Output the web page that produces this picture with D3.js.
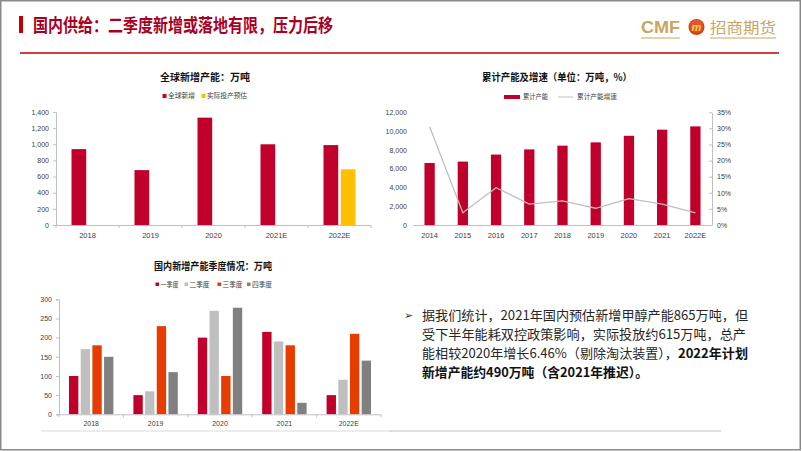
<!DOCTYPE html>
<html><head><meta charset="utf-8">
<script src="https://cdn.jsdelivr.net/npm/d3@7"></script>
<style>
html,body{margin:0;padding:0;background:#fff;}
svg{display:block;}
</style></head>
<body>
<svg id="c" width="802" height="451"></svg>
<script>
// ---------- DATA ----------
const pageTitle = "国内供给：二季度新增或落地有限，压力后移";

const c1Title = "全球新增产能：万吨";
const c1Categories = ["2018","2019","2020","2021E","2022E"];
const c1Global = [940, 680, 1330, 1000, 990];
const c1Actual = [null, null, null, null, 690];
const c1SeriesNames = ["全球新增","实际投产预估"];
const c1Ticks = [0,200,400,600,800,1000,1200,1400];

const c2Title = "累计产能及增速（单位：万吨，%）";
const c2Categories = ["2014","2015","2016","2017","2018","2019","2020","2021","2022E"];
const c2Capacity = [6600, 6750, 7500, 8050, 8450, 8800, 9500, 10150, 10500];
const c2Growth = [0.305, 0.038, 0.116, 0.065, 0.075, 0.052, 0.082, 0.065, 0.038];
const c2SeriesNames = ["累计产能","累计产能增速"];
const c2LeftTicks = [0,2000,4000,6000,8000,10000,12000];
const c2RightTicks = [0,0.05,0.10,0.15,0.20,0.25,0.30,0.35];

const c3Title = "国内新增产能季度情况：万吨";
const c3Categories = ["2018","2019","2020","2021","2022E"];
const c3Quarters = ["一季度","二季度","三季度","四季度"];
const c3Q1 = [100, 50, 200, 215, 50];
const c3Q2 = [170, 60, 270, 190, 90];
const c3Q3 = [180, 230, 100, 180, 210];
const c3Q4 = [150, 110, 278, 30, 140];
const c3Ticks = [0,50,100,150,200,250,300];

const bodyLines = [
  {parts:[{t:"据我们统计，2021年国内预估新增甲醇产能865万吨，但",b:false}], w:326},
  {parts:[{t:"受下半年能耗双控政策影响，实际投放约615万吨，总产",b:false}], w:324},
  {parts:[{t:"能相较2020年增长6.46%（剔除淘汰装置），",b:false},{t:"2022年计划",b:true}], w:326},
  {parts:[{t:"新增产能约490万吨（含2021年推迟）。",b:true}], w:226}
];

// ---------- STYLE ----------
const RED = "#C0002B";
const ORANGE = "#FFC000";
const GRAY_L = "#BFBFBF";
const ORANGE_R = "#E63C00";
const GRAY_D = "#808080";
const AXIS = "#BFBFBF";
const LBL = "#404040";
const CJK = "'Noto Sans CJK SC','Noto Sans',sans-serif";
const LAT = "'Liberation Sans',Arial,sans-serif";

const svg = d3.select("#c");

// frame
svg.append("rect").attr("x",0.75).attr("y",0.75).attr("width",799.5).attr("height",449)
  .attr("fill","none").attr("stroke","#8a8a8a").attr("stroke-width",1.5);

// header
svg.append("rect").attr("x",19).attr("y",16).attr("width",4).attr("height",17).attr("fill","#C00000");
svg.append("text").attr("x",33).attr("y",32).text(pageTitle)
  .attr("font-family",CJK).attr("font-weight","bold").attr("font-size",18)
  .attr("fill","#A8001E").attr("textLength",300).attr("lengthAdjust","spacingAndGlyphs");
svg.append("line").attr("x1",20).attr("x2",779).attr("y1",53).attr("y2",53)
  .attr("stroke","#C00000").attr("stroke-width",1.5);

// logo
const GOLD = "#C9A55E";
svg.append("text").attr("x",641).attr("y",33).text("CMF")
  .attr("font-family",LAT).attr("font-weight","bold").attr("font-size",17).attr("fill",GOLD)
  .attr("textLength",39).attr("lengthAdjust","spacingAndGlyphs");
svg.append("line").attr("x1",641).attr("x2",680).attr("y1",38).attr("y2",38).attr("stroke",GOLD).attr("stroke-width",1);
const ball = svg.append("g").attr("transform","translate(696.5,27)");
ball.append("circle").attr("r",8).attr("fill","#D2401A");
ball.append("circle").attr("r",6.5).attr("cy",-1).attr("fill","#E4572A");
ball.append("text").attr("y",3.5).attr("text-anchor","middle").text("m")
  .attr("font-family",LAT).attr("font-weight","bold").attr("font-style","italic").attr("font-size",11).attr("fill","#FFD24A");
svg.append("text").attr("x",710).attr("y",33).text("招商期货")
  .attr("font-family",CJK).attr("font-size",15).attr("fill",GOLD)
  .attr("textLength",66).attr("lengthAdjust","spacingAndGlyphs");
svg.append("line").attr("x1",710).attr("x2",776).attr("y1",38).attr("y2",38).attr("stroke",GOLD).attr("stroke-width",1);

function chartTitle(txt, cx, y, len){
  svg.append("text").attr("x",cx).attr("y",y).attr("text-anchor","middle").text(txt)
    .attr("font-family",CJK).attr("font-weight","bold").attr("font-size",10).attr("fill","#111")
    .attr("textLength",len).attr("lengthAdjust","spacingAndGlyphs");
}
function legendText(txt, x, y, len){
  svg.append("text").attr("x",x).attr("y",y).text(txt)
    .attr("font-family",CJK).attr("font-size",6.5).attr("fill","#404040")
    .attr("textLength",len).attr("lengthAdjust","spacingAndGlyphs");
}
function styleAxis(g){
  g.selectAll("path").attr("stroke",AXIS);
  g.selectAll("line").attr("stroke",AXIS);
  g.selectAll("text").attr("font-family",LAT).attr("font-size",7).attr("fill",LBL);
}
function bandTicks(g, xs, y, cats){
  // Excel style category boundary ticks
  const b = [xs.range()[0]].concat(cats.map(c=>xs(c)+xs.step()));
  g.selectAll("line.bt").data(b).enter().append("line").attr("class","bt")
    .attr("x1",d=>d).attr("x2",d=>d).attr("y1",y).attr("y2",y+3).attr("stroke",AXIS);
}

// ---------- CHART 1 ----------
{
  chartTitle(c1Title, 205, 81, 90);
  const x = d3.scaleBand().domain(c1Categories).range([56,371]);
  const sub = d3.scaleBand().domain([0,1]).range([-16,16]).paddingInner(0.15);
  const y = d3.scaleLinear().domain([0,1400]).range([225,112]);
  const g = svg.append("g");
  g.selectAll("rect.a").data(c1Categories).enter().append("rect")
    .attr("x",(d,i)=>x(d)+x.bandwidth()/2+sub(0)).attr("width",sub.bandwidth())
    .attr("y",(d,i)=>y(c1Global[i])).attr("height",(d,i)=>y(0)-y(c1Global[i])).attr("fill",RED);
  g.selectAll("rect.b").data(c1Categories.filter((d,i)=>c1Actual[i]!=null)).enter().append("rect")
    .attr("x",d=>x(d)+x.bandwidth()/2+sub(1)).attr("width",sub.bandwidth())
    .attr("y",d=>y(c1Actual[c1Categories.indexOf(d)])).attr("height",d=>y(0)-y(c1Actual[c1Categories.indexOf(d)])).attr("fill",ORANGE);
  const ya = svg.append("g").attr("transform","translate(56,0)")
    .call(d3.axisLeft(y).tickValues(c1Ticks).tickFormat(d3.format(",")).tickSize(3).tickPadding(4));
  styleAxis(ya);
  const xa = svg.append("g").attr("transform","translate(0,225)")
    .call(d3.axisBottom(x).tickSize(0).tickPadding(8));
  styleAxis(xa); xa.select("path").attr("d","M56,0.5H371");
  xa.selectAll("text").attr("font-size",7.5);
  bandTicks(svg.append("g"), x, 225, c1Categories);
  // legend
  svg.append("rect").attr("x",162.5).attr("y",94).attr("width",4).attr("height",4).attr("fill",RED);
  legendText(c1SeriesNames[0],168,98,27);
  svg.append("rect").attr("x",201.5).attr("y",94).attr("width",4).attr("height",4).attr("fill",ORANGE);
  legendText(c1SeriesNames[1],207,98,40);
}

// ---------- CHART 2 ----------
{
  chartTitle(c2Title, 557, 81, 150);
  const x = d3.scaleBand().domain(c2Categories).range([413,712]).paddingInner(0.69).paddingOuter(0.345);
  const yL = d3.scaleLinear().domain([0,12000]).range([225,112.3]);
  const yR = d3.scaleLinear().domain([0,0.35]).range([225,112.3]);
  svg.append("g").selectAll("rect").data(c2Categories).enter().append("rect")
    .attr("x",d=>x(d)).attr("width",x.bandwidth())
    .attr("y",(d,i)=>yL(c2Capacity[i])).attr("height",(d,i)=>yL(0)-yL(c2Capacity[i])).attr("fill",RED);
  const line = d3.line().x((d,i)=>x(c2Categories[i])+x.bandwidth()/2).y(d=>yR(d));
  svg.append("path").datum(c2Growth).attr("d",line).attr("fill","none").attr("stroke",GRAY_L).attr("stroke-width",1.3);
  const ya = svg.append("g").attr("transform","translate(413,0)")
    .call(d3.axisLeft(yL).tickValues(c2LeftTicks).tickFormat(d3.format(",")).tickSize(0).tickPadding(6));
  styleAxis(ya); ya.select("path").remove();
  const yb = svg.append("g").attr("transform","translate(712,0)")
    .call(d3.axisRight(yR).tickValues(c2RightTicks).tickFormat(d3.format(".0%")).tickSize(0).tickPadding(5));
  styleAxis(yb);
  yb.selectAll(".tick").append("line").attr("x1",-3).attr("x2",0).attr("stroke",AXIS);
  const xa = svg.append("g").attr("transform","translate(0,225)")
    .call(d3.axisBottom(x).tickSize(0).tickPadding(8));
  styleAxis(xa); xa.select("path").attr("d","M413,0.5H712");
  xa.selectAll("text").attr("font-size",7.5);
  // legend
  svg.append("rect").attr("x",504).attr("y",95).attr("width",16).attr("height",4).attr("fill",RED);
  legendText(c2SeriesNames[0],523,99,25);
  svg.append("line").attr("x1",558).attr("x2",573).attr("y1",97).attr("y2",97).attr("stroke",GRAY_L).attr("stroke-width",1);
  legendText(c2SeriesNames[1],577,99,40);
}

// ---------- CHART 3 ----------
{
  chartTitle(c3Title, 213, 270, 118);
  const x = d3.scaleBand().domain(c3Categories).range([59,381]);
  const sub = d3.scaleBand().domain(c3Quarters).range([-22.2,22.2]).paddingInner(0.2);
  const y = d3.scaleLinear().domain([0,300]).range([414.3,299.3]);
  const series = [c3Q1,c3Q2,c3Q3,c3Q4];
  const colors = [RED, GRAY_L, ORANGE_R, GRAY_D];
  series.forEach((vals,si)=>{
    svg.append("g").selectAll("rect").data(c3Categories).enter().append("rect")
      .attr("x",d=>x(d)+x.bandwidth()/2+sub(c3Quarters[si])).attr("width",sub.bandwidth())
      .attr("y",(d,i)=>y(vals[i])).attr("height",(d,i)=>y(0)-y(vals[i])).attr("fill",colors[si]);
  });
  const ya = svg.append("g").attr("transform","translate(59,0)")
    .call(d3.axisLeft(y).tickValues(c3Ticks).tickSize(3).tickPadding(4));
  styleAxis(ya);
  const xa = svg.append("g").attr("transform","translate(0,414.3)")
    .call(d3.axisBottom(x).tickSize(0).tickPadding(7));
  styleAxis(xa); xa.select("path").attr("d","M59,0.5H381");
  bandTicks(svg.append("g"), x, 414.3, c3Categories);
  // legend
  const lx = [155.5, 184.5, 217.5, 247];
  const lw = [18, 20, 20, 20];
  c3Quarters.forEach((q,i)=>{
    svg.append("rect").attr("x",lx[i]).attr("y",282.5).attr("width",3.5).attr("height",3.5).attr("fill",colors[i]);
    legendText(q, lx[i]+5, 287, lw[i]);
  });
  // separator
  svg.append("line").attr("x1",41).attr("x2",389).attr("y1",431).attr("y2",431).attr("stroke","#D9D9D9").attr("stroke-width",1.2);
  svg.append("line").attr("x1",389).attr("x2",721).attr("y1",431).attr("y2",431).attr("stroke","#BDBDBD").attr("stroke-width",1.2);
}

// ---------- TEXT BLOCK ----------
svg.append("text").attr("x",404).attr("y",319).text("➢")
  .attr("font-family","'DejaVu Sans',sans-serif").attr("font-size",11).attr("fill","#333");
bodyLines.forEach((ln,i)=>{
  const t = svg.append("text").attr("x",422).attr("y",319.5+i*19)
    .attr("font-family",CJK).attr("font-size",13).attr("fill","#262626")
    .attr("textLength",ln.w).attr("lengthAdjust","spacingAndGlyphs");
  ln.parts.forEach(p=>{
    t.append("tspan").text(p.t).attr("font-weight",p.b?"bold":"normal").attr("fill",p.b?"#111":"#262626");
  });
});
</script>
</body></html>
